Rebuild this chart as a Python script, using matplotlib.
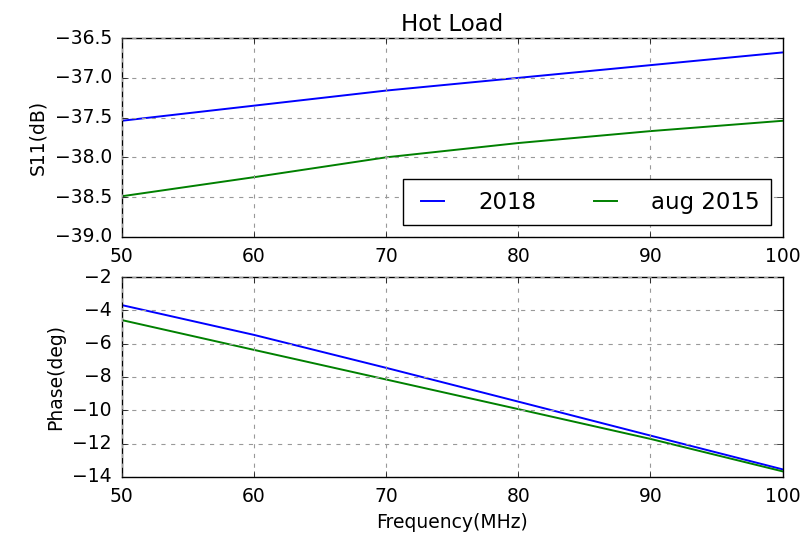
import matplotlib
matplotlib.use("Agg")
import matplotlib.pyplot as plt

plt.style.use("classic")

freq_mhz = [50, 60, 70, 80, 90, 100]
s11_2018 = [-37.54, -37.35, -37.16, -37.00, -36.84, -36.68]
s11_2015 = [-38.49, -38.25, -38.00, -37.82, -37.67, -37.54]
phase_2018 = [-3.68, -5.47, -7.45, -9.48, -11.52, -13.55]
phase_2015 = [-4.58, -6.37, -8.15, -9.93, -11.72, -13.67]
labels = ["2018", "aug 2015"]

fig = plt.figure(figsize=(8.11, 5.37), dpi=100, facecolor="white")
ax1 = fig.add_axes([0.150, 0.559, 0.815, 0.370])
ax2 = fig.add_axes([0.150, 0.112, 0.815, 0.372])

line_kw = dict(lw=1.4)
ax1.plot(freq_mhz, s11_2018, color="b", label=labels[0], **line_kw)
ax1.plot(freq_mhz, s11_2015, color="g", label=labels[1], **line_kw)
ax1.set_xlim(50, 100)
ax1.set_ylim(-39.0, -36.5)
ax1.set_ylabel("S11(dB)", fontsize=13.5)
ax1.set_title("Hot Load", fontsize=16.5)
ax1.legend(loc="lower right", ncol=2, prop={"size": 16.5},
           handlelength=1.6, handletextpad=1.2, columnspacing=2.2,
           borderpad=0.5, bbox_to_anchor=(1.0, 0.0))

ax2.plot(freq_mhz, phase_2018, color="b", **line_kw)
ax2.plot(freq_mhz, phase_2015, color="g", **line_kw)
ax2.set_xlim(50, 100)
ax2.set_ylim(-14, -2)
ax2.set_ylabel("Phase(deg)", fontsize=13.5)
ax2.set_xlabel("Frequency(MHz)", fontsize=13.5)

for ax in (ax1, ax2):
    ax.grid(True, color="0.6", linestyle=(0, (3, 4)), lw=0.8)
    ax.tick_params(labelsize=13.5, pad=7)

fig.savefig("out.png", dpi=100, facecolor="white")
